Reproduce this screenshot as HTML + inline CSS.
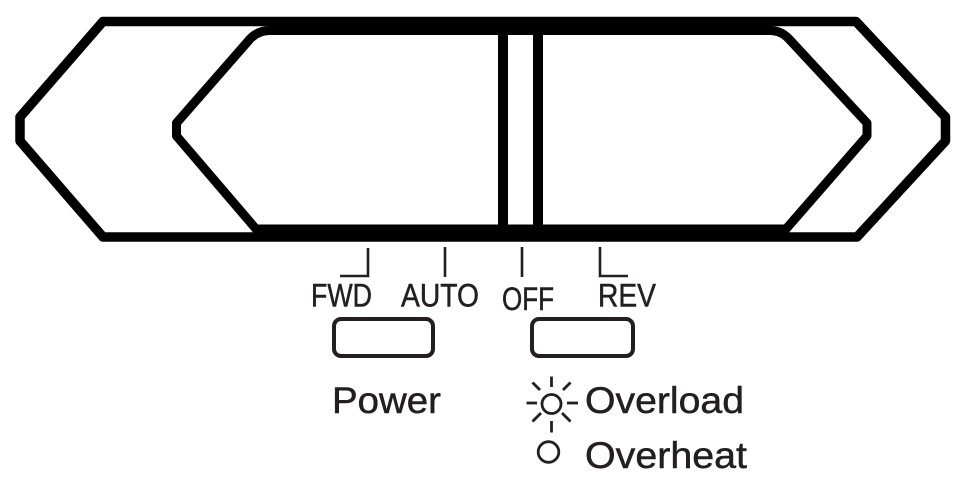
<!DOCTYPE html>
<html>
<head>
<meta charset="utf-8">
<style>
  html,body{margin:0;padding:0;background:#fff;}
  svg{display:block;}
  text{font-family:"Liberation Sans", sans-serif; fill:#231f20; stroke:#231f20; stroke-width:0.5;}
</style>
</head>
<body>
<svg width="966" height="500" viewBox="0 0 966 500" xmlns="http://www.w3.org/2000/svg">
  <!-- outer hexagon -->
  <path d="M103,21.5 L856,21.5 L945.5,117 L945.5,141 L857,237 L103,237 L20,141 L20,117 Z"
        fill="none" stroke="#000" stroke-width="9.5" stroke-linejoin="round"/>
  <!-- inner hexagon -->
  <path d="M270,30.5 L770,30.5 Q781,30.5 789,39 L867,123 L867,136 L786,229 L256,229 L176.5,136 L176.5,123 L250,39 Q258,30.5 270,30.5 Z"
        fill="none" stroke="#000" stroke-width="9" stroke-linejoin="round"/>
  <!-- vertical bars -->
  <rect x="498" y="32" width="10" height="196" fill="#000"/>
  <rect x="533" y="32" width="10" height="196" fill="#000"/>

  <!-- ticks -->
  <g stroke="#231f20" stroke-width="2.6" fill="none">
    <polyline points="368,248 368,276 340,276"/>
    <line x1="445" y1="247" x2="445" y2="277"/>
    <line x1="522" y1="247" x2="522" y2="277"/>
    <polyline points="600,247 600,276 628,276"/>
  </g>

  <!-- position labels -->
  <text x="311" y="306.5" font-size="32" textLength="61" lengthAdjust="spacingAndGlyphs">FWD</text>
  <text x="401" y="306.5" font-size="32" textLength="78" lengthAdjust="spacingAndGlyphs">AUTO</text>
  <text x="502" y="310" font-size="32" textLength="52" lengthAdjust="spacingAndGlyphs">OFF</text>
  <text x="598" y="306.5" font-size="32" textLength="58" lengthAdjust="spacingAndGlyphs">REV</text>

  <!-- buttons -->
  <rect x="334" y="319" width="99" height="37" rx="7" ry="7" fill="none" stroke="#231f20" stroke-width="4"/>
  <rect x="532" y="319" width="101" height="37" rx="7" ry="7" fill="none" stroke="#231f20" stroke-width="4"/>

  <!-- Power -->
  <text x="332" y="413" font-size="37" textLength="109" lengthAdjust="spacingAndGlyphs">Power</text>

  <!-- sun icon -->
  <g stroke="#231f20" stroke-width="2.8" fill="none" stroke-linecap="butt">
    <circle cx="551.5" cy="404" r="9.5"/>
    <line x1="551.5" y1="376.5" x2="551.5" y2="387"/>
    <line x1="551.5" y1="421" x2="551.5" y2="432.5"/>
    <line x1="526.5" y1="403" x2="537" y2="403"/>
    <line x1="567" y1="403" x2="578" y2="403"/>
    <line x1="532.5" y1="382.5" x2="540" y2="390"/>
    <line x1="570.5" y1="382.5" x2="563" y2="390"/>
    <line x1="532.5" y1="421.5" x2="541" y2="413"/>
    <line x1="570.5" y1="421.5" x2="562" y2="413"/>
  </g>
  <text x="585" y="413" font-size="37" textLength="159" lengthAdjust="spacingAndGlyphs">Overload</text>

  <!-- overheat -->
  <circle cx="548.5" cy="452" r="10.3" fill="none" stroke="#231f20" stroke-width="2.8"/>
  <text x="585" y="468" font-size="37" textLength="162" lengthAdjust="spacingAndGlyphs">Overheat</text>
</svg>
</body>
</html>
